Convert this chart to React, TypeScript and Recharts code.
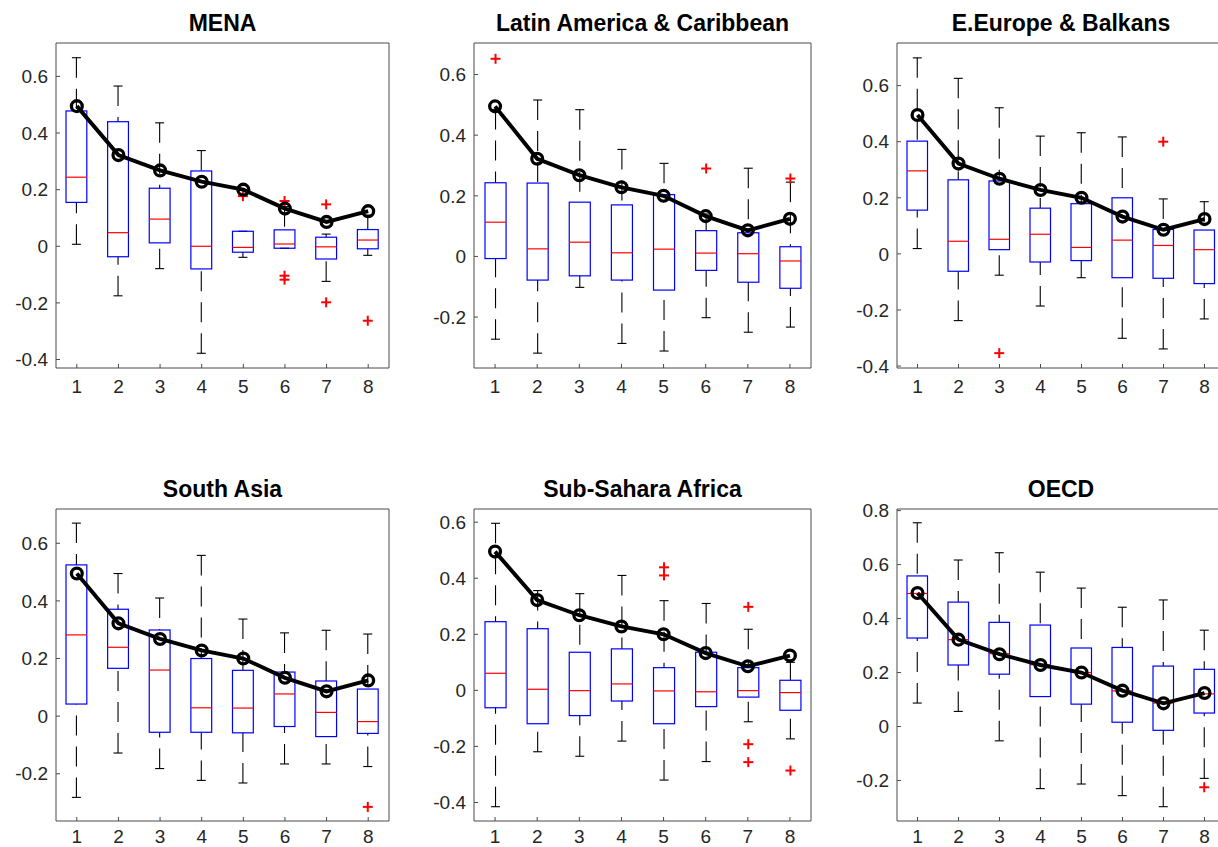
import React from 'react';
import { ComposedChart, Bar, Line, XAxis, YAxis } from 'recharts';

const categories = ['1', '2', '3', '4', '5', '6', '7', '8'];
const meanLine = [0.495, 0.322, 0.268, 0.228, 0.2, 0.133, 0.086, 0.124];

// each box: [low whisker, q1, median, q3, high whisker]
const menaBoxes = [
  [0.007, 0.155, 0.244, 0.478, 0.666],
  [-0.175, -0.037, 0.048, 0.44, 0.566],
  [-0.079, 0.012, 0.096, 0.205, 0.436],
  [-0.378, -0.08, 0, 0.266, 0.338],
  [-0.039, -0.021, -0.004, 0.053, 0.053],
  [-0.007, -0.007, 0.008, 0.058, 0.14],
  [-0.124, -0.045, -0.002, 0.032, 0.043],
  [-0.032, -0.009, 0.022, 0.059, 0.11],
];
const menaOutliers = [[], [], [], [], [0.177], [0.16, -0.104, -0.118], [0.148, -0.198], [-0.263]];

const latamBoxes = [
  [-0.273, -0.007, 0.113, 0.243, 0.485],
  [-0.319, -0.078, 0.025, 0.242, 0.516],
  [-0.102, -0.064, 0.047, 0.179, 0.484],
  [-0.287, -0.078, 0.012, 0.17, 0.353],
  [-0.312, -0.111, 0.024, 0.204, 0.307],
  [-0.202, -0.046, 0.011, 0.085, 0.14],
  [-0.25, -0.085, 0.009, 0.078, 0.291],
  [-0.233, -0.105, -0.015, 0.032, 0.245],
];
const latamOutliers = [[0.652], [], [], [], [], [0.29], [], [0.257]];

const eeuropeBoxes = [
  [0.019, 0.156, 0.296, 0.402, 0.699],
  [-0.238, -0.062, 0.045, 0.264, 0.626],
  [-0.076, 0.015, 0.052, 0.26, 0.521],
  [-0.186, -0.029, 0.07, 0.163, 0.42],
  [-0.085, -0.024, 0.023, 0.179, 0.432],
  [-0.301, -0.085, 0.049, 0.2, 0.417],
  [-0.339, -0.087, 0.03, 0.087, 0.196],
  [-0.232, -0.106, 0.015, 0.085, 0.186],
];
const eeuropeOutliers = [[], [], [-0.354], [], [], [], [0.4], []];

const southAsiaBoxes = [
  [-0.282, 0.042, 0.282, 0.525, 0.67],
  [-0.128, 0.166, 0.239, 0.371, 0.495],
  [-0.182, -0.056, 0.16, 0.299, 0.41],
  [-0.223, -0.056, 0.029, 0.2, 0.558],
  [-0.232, -0.058, 0.028, 0.159, 0.337],
  [-0.166, -0.036, 0.077, 0.153, 0.289],
  [-0.166, -0.071, 0.013, 0.122, 0.298],
  [-0.175, -0.06, -0.019, 0.094, 0.285],
];
const southAsiaOutliers = [[], [], [], [], [], [], [], [-0.315]];

const ssaBoxes = [
  [-0.415, -0.062, 0.061, 0.245, 0.596],
  [-0.219, -0.119, 0.004, 0.22, 0.356],
  [-0.235, -0.09, -0.001, 0.136, 0.345],
  [-0.181, -0.038, 0.023, 0.148, 0.41],
  [-0.32, -0.119, -0.002, 0.081, 0.32],
  [-0.254, -0.058, -0.005, 0.136, 0.31],
  [-0.112, -0.024, -0.001, 0.081, 0.218],
  [-0.173, -0.071, -0.008, 0.036, 0.1],
];
const ssaOutliers = [[], [], [], [], [0.439, 0.41], [], [0.298, -0.192, -0.256], [-0.286]];

const oecdBoxes = [
  [0.087, 0.328, 0.493, 0.558, 0.755],
  [0.056, 0.228, 0.322, 0.461, 0.617],
  [-0.053, 0.194, 0.27, 0.386, 0.644],
  [-0.23, 0.111, 0.229, 0.376, 0.572],
  [-0.213, 0.083, 0.2, 0.291, 0.513],
  [-0.256, 0.016, 0.132, 0.293, 0.442],
  [-0.297, -0.014, 0.087, 0.224, 0.469],
  [-0.192, 0.05, 0.121, 0.212, 0.357],
];
const oecdOutliers = [[], [], [], [], [], [], [], [-0.225]];

const ticksWide = [-0.4, -0.2, 0, 0.2, 0.4, 0.6];
const ticksNarrow = [-0.2, 0, 0.2, 0.4, 0.6];
const ticksOecd = [-0.2, 0, 0.2, 0.4, 0.6, 0.8];

const regions = [
  { title: 'MENA', boxes: menaBoxes, outliers: menaOutliers, domain: [-0.43, 0.718], ticks: ticksWide },
  { title: 'Latin America & Caribbean', boxes: latamBoxes, outliers: latamOutliers, domain: [-0.368, 0.704], ticks: ticksNarrow },
  { title: 'E.Europe & Balkans', boxes: eeuropeBoxes, outliers: eeuropeOutliers, domain: [-0.407, 0.752], ticks: ticksWide },
  { title: 'South Asia', boxes: southAsiaBoxes, outliers: southAsiaOutliers, domain: [-0.364, 0.719], ticks: ticksNarrow },
  { title: 'Sub-Sahara Africa', boxes: ssaBoxes, outliers: ssaOutliers, domain: [-0.466, 0.647], ticks: ticksWide },
  { title: 'OECD', boxes: oecdBoxes, outliers: oecdOutliers, domain: [-0.35, 0.806], ticks: ticksOecd },
];

// plot-area rectangles on the page
const layout = [
  { left: 56, top: 43, width: 333, height: 325, right: 10, labelGap: 16 },
  { left: 474, top: 43, width: 337, height: 325, right: 10, labelGap: 16 },
  { left: 897, top: 43, width: 328, height: 325, right: 1, labelGap: 16 },
  { left: 56, top: 509, width: 333, height: 312, right: 10, labelGap: 13 },
  { left: 474, top: 509, width: 337, height: 312, right: 10, labelGap: 13 },
  { left: 897, top: 509, width: 328, height: 312, right: 1, labelGap: 13 },
];

const FONT = '"Liberation Sans", Arial, Helvetica, sans-serif';
const AXIS_W = 56;
const AXIS_TOP = 43;
const AXIS_BOTTOM = 30;
const axisStroke = { stroke: '#4a4a4a', strokeWidth: 1 };
const tickFont = { fontSize: 19, fill: '#262626', fontFamily: FONT };

const BoxShape = (props: any) => {
  const { x, y, width, height, payload } = props;
  if (!payload) return null;
  const { lo, q1, med, q3, hi, out } = payload;
  const top = Math.min(y, y + height);
  const k = Math.abs(height) / (hi - lo);
  const py = (v: number) => top + (hi - v) * k;
  const cx = x + width / 2;
  const cap = 4.5;
  return (
    <g>
      <line x1={cx} y1={py(hi)} x2={cx} y2={py(q3)} stroke="#000" strokeWidth={1.1} strokeDasharray="20 11" />
      <line x1={cx} y1={py(lo)} x2={cx} y2={py(q1)} stroke="#000" strokeWidth={1.1} strokeDasharray="20 11" />
      <line x1={cx - cap} y1={py(hi)} x2={cx + cap} y2={py(hi)} stroke="#000" strokeWidth={1.1} />
      <line x1={cx - cap} y1={py(lo)} x2={cx + cap} y2={py(lo)} stroke="#000" strokeWidth={1.1} />
      <rect x={x} y={py(q3)} width={width} height={py(q1) - py(q3)} fill="none" stroke="#0000ff" strokeWidth={1.2} />
      <line x1={x} y1={py(med)} x2={x + width} y2={py(med)} stroke="#ff0000" strokeWidth={1.2} />
      {out.map((v: number, i: number) => (
        <g key={i} stroke="#ff0000" strokeWidth={2}>
          <line x1={cx - 5} y1={py(v)} x2={cx + 5} y2={py(v)} />
          <line x1={cx} y1={py(v) - 5} x2={cx} y2={py(v) + 5} />
        </g>
      ))}
    </g>
  );
};

const fmt = (v: number) => (Math.abs(v) < 1e-9 ? '0' : String(v));

const Panel = ({ region, box }: any) => {
  const data = categories.map((c, i) => {
    const [lo, q1, med, q3, hi] = region.boxes[i];
    return { x: c, lo, q1, med, q3, hi, out: region.outliers[i], mean: meanLine[i] };
  });
  const chartW = AXIS_W + box.width + box.right;
  const chartH = AXIS_TOP + box.height + AXIS_BOTTOM;
  return (
    <>
      <div
        style={{
          position: 'absolute',
          left: box.left,
          width: box.width,
          top: box.top - 31,
          textAlign: 'center',
          fontFamily: FONT,
          fontWeight: 'bold',
          fontSize: 23,
          lineHeight: '23px',
          color: '#000',
          whiteSpace: 'nowrap',
        }}
      >
        {region.title}
      </div>
      <div style={{ position: 'absolute', left: box.left - AXIS_W, top: box.top - AXIS_TOP }}>
        <ComposedChart width={chartW} height={chartH} data={data} margin={{ top: 0, right: 0, bottom: 0, left: 0 }}>
          <XAxis
            dataKey="x"
            height={AXIS_BOTTOM}
            interval={0}
            tickSize={-4}
            tickMargin={box.labelGap}
            axisLine={axisStroke}
            tickLine={axisStroke}
            tick={tickFont}
          />
          <XAxis
            xAxisId="top"
            dataKey="x"
            orientation="top"
            height={AXIS_TOP}
            interval={0}
            tickSize={-4}
            axisLine={axisStroke}
            tickLine={axisStroke}
            tick={false}
          />
          <YAxis
            type="number"
            width={AXIS_W}
            domain={region.domain}
            allowDataOverflow
            ticks={region.ticks}
            interval={0}
            tickSize={-4}
            tickMargin={12}
            tickFormatter={fmt}
            axisLine={axisStroke}
            tickLine={axisStroke}
            tick={tickFont}
          />
          <YAxis
            yAxisId="right"
            type="number"
            orientation="right"
            width={box.right}
            domain={region.domain}
            allowDataOverflow
            ticks={region.ticks}
            interval={0}
            tickSize={-4}
            axisLine={axisStroke}
            tickLine={axisStroke}
            tick={false}
          />
          <Bar
            dataKey={(d: any) => [d.lo, d.hi]}
            barSize={box.width / 16}
            shape={BoxShape}
            isAnimationActive={false}
          />
          <Line
            dataKey="mean"
            stroke="#000"
            strokeWidth={3.9}
            dot={{ r: 5.4, stroke: '#000', strokeWidth: 3.3, fill: 'none' }}
            activeDot={false}
            isAnimationActive={false}
          />
        </ComposedChart>
      </div>
    </>
  );
};

export default function App() {
  return (
    <div
      style={{
        position: 'absolute',
        left: 0,
        top: 0,
        width: 1218,
        height: 847,
        overflow: 'hidden',
        background: '#fff',
      }}
    >
      {regions.map((r, i) => (
        <Panel key={r.title} region={r} box={layout[i]} />
      ))}
    </div>
  );
}
